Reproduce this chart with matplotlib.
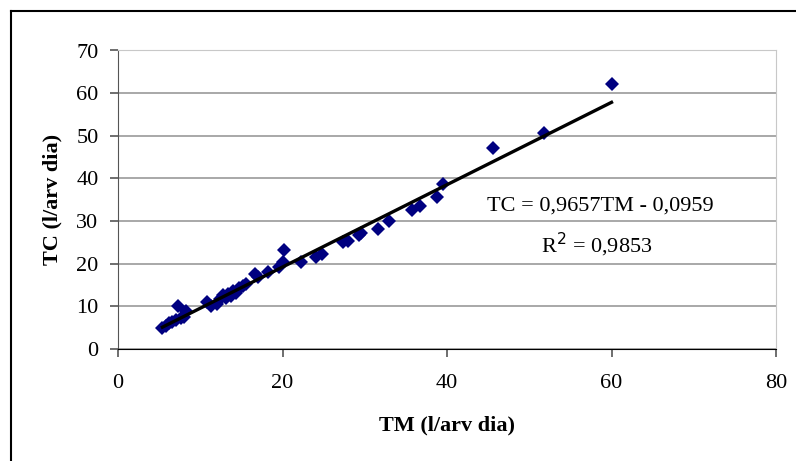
import numpy as np
import matplotlib.pyplot as plt
from matplotlib.lines import Line2D

# data
tm = [5.4, 5.8, 6.2, 6.6, 7.0, 7.3, 7.6, 8.0, 8.3, 10.8, 11.3, 12.0, 12.4, 12.8,
      13.1, 13.4, 13.7, 14.0, 14.3, 14.7, 15.2, 15.6, 16.6, 17.0, 18.2, 19.6,
      20.0, 20.2, 22.2, 24.1, 24.8, 27.3, 28.0, 29.3, 29.6, 31.6, 32.9, 35.8,
      36.7, 38.8, 39.5, 45.6, 51.8, 60.0]
tc = [4.9, 5.5, 6.0, 6.3, 6.8, 10.1, 7.2, 7.6, 8.8, 11.0, 10.0, 10.6, 11.8, 12.6,
      12.0, 13.0, 12.4, 13.6, 13.1, 14.2, 14.8, 15.3, 17.5, 17.0, 18.0, 19.2,
      20.5, 23.3, 20.3, 21.6, 22.3, 25.0, 25.4, 26.8, 27.3, 28.1, 30.0, 32.6,
      33.5, 35.6, 38.8, 47.1, 50.7, 62.1]
slope = 0.9657
intercept = -0.0959

plt.rcParams['font.family'] = ['Liberation Serif', 'DejaVu Serif']

fig = plt.figure(figsize=(7.96, 4.61), dpi=100)
ax = fig.add_axes([118/796, 1 - 349/461, (776 - 118)/796, (349 - 50.5)/461])

ax.plot(tm, tc, 'D', color='#000080', markersize=7.5, markeredgewidth=0, zorder=3)

xl = np.array([min(tm), max(tm)])
ax.plot(xl, slope*xl + intercept, color='black', linewidth=2.4, zorder=4)

ax.set_xlim(0, 80)
ax.set_ylim(0, 70)
ax.set_xticks(np.arange(0, 81, 20))
ax.set_yticks(np.arange(0, 71, 10))
ax.yaxis.grid(True, color='#9a9a9a', linewidth=1.2)
ax.set_axisbelow(True)

for s in ['top', 'right']:
    ax.spines[s].set_color('#c8c8c8')
ax.spines['left'].set_color('#555555')
ax.spines['bottom'].set_color('black')
ax.tick_params(axis='both', direction='out', length=6, width=1.2, labelsize=16, color='#555555')
ax.tick_params(axis='x', pad=12)
ax.tick_params(axis='y', pad=8)

ax.set_xlabel('TM (l/arv dia)', fontsize=16, fontweight='bold', labelpad=16)
ax.set_ylabel('TC (l/arv dia)', fontsize=16, fontweight='bold', labelpad=10)

ax.text(58.6, 33.5, 'TC = 0,9657TM - 0,0959', fontsize=16, ha='center', va='center')
ax.text(58.2, 24.4, 'R$^2$ = 0,9853', fontsize=16, ha='center', va='center')

# outer frame (left and top edges visible)
fig.add_artist(Line2D([11/796, 11/796], [-0.1, 1 - 11/461], color='black', linewidth=1.5))
fig.add_artist(Line2D([11/796, 1.1], [1 - 11/461, 1 - 11/461], color='black', linewidth=1.5))

fig.savefig('out.png', dpi=100)
